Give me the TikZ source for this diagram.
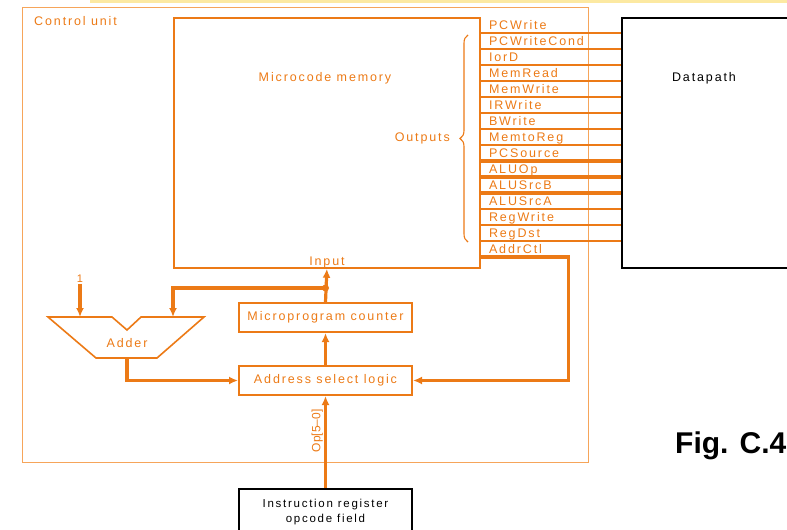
\documentclass[tikz,border=0pt]{standalone}
\usepackage{fontspec}
\setmainfont{Liberation Sans}[LetterSpace=15]
\newfontfamily\figfont{Liberation Sans}
\usetikzlibrary{arrows.meta, positioning, calc, decorations.pathreplacing}
\definecolor{cuorange}{RGB}{236,122,22}
\definecolor{cuframe}{RGB}{246,165,90}
\definecolor{brushyellow}{RGB}{250,212,70}

\begin{document}
\begin{tikzpicture}[
    x=1pt, y=-1pt,
    font=\fontsize{12.5}{14}\selectfont,
    txt/.style={text=cuorange, inner sep=1pt},
    blk/.style={rectangle, draw=cuorange, line width=2pt, minimum width=173pt, minimum height=29pt, text=cuorange},
    membox/.style={rectangle, draw=cuorange, line width=1.8pt, anchor=north west, minimum width=306pt, minimum height=250pt},
    dpbox/.style={rectangle, draw=black, line width=2pt, anchor=north west, minimum width=220pt, minimum height=250pt},
    sl/.style={draw=cuorange, line width=1.8pt},
    bus/.style={draw=cuorange, line width=3.2pt},
    arrow/.style={-{Latex[length=9pt,width=8pt]}},
    sig/.style={txt, anchor=base west}
]
    \clip (0,0) rectangle (787,530);
    \fill[brushyellow, opacity=0.5] (90,0) rectangle (787,2.5);

    % Frames
    \node[draw=cuframe, line width=1.2pt, anchor=north west, minimum width=566pt, minimum height=455pt] (cu) at (22,7) {};
    \node[txt, anchor=north west] (cutitle) at (33,15) {Control unit};
    \node[membox] (mem) at (173,17) {};
    \node[txt] (memtitle) at (325,78) {Microcode memory};
    \node[txt, anchor=south] (input) at (mem.south) {Input};
    \node[dpbox] (dp) at (621,17) {};
    \node[text=black] (dptitle) at (704,78) {Datapath};

    % Control signals
    \foreach \sig/\w [count=\i] in {PCWrite/sl, PCWriteCond/sl, IorD/sl, MemRead/sl, MemWrite/sl, IRWrite/sl, BWrite/sl, MemtoReg/sl, PCSource/bus, ALUOp/bus, ALUSrcB/bus, ALUSrcA/sl, RegWrite/sl, RegDst/sl} {
        \coordinate (o\i) at ($(mem.north east)+(0,16*\i)$);
        \node[sig] (s\i) at ($(o\i)+(7,-3.5)$) {\sig};
        \draw[\w] (o\i) -- (dp.west |- o\i);
    }
    \coordinate (o15) at ($(mem.north east)+(0,240)$);
    \node[sig] (s15) at ($(o15)+(7,-3.5)$) {AddrCtl};

    \draw[cuorange, line width=1.1pt, decorate, decoration={brace, amplitude=8pt}] (468,242) -- (468,35);
    \node[txt, anchor=east] (outputs) at (451,138) {Outputs};

    % Sequencer
    \node[blk] (mpc) at (325.5,317.5) {Microprogram counter};
    \node[blk, below=32pt of mpc] (asl) {Address select logic};
    \node[rectangle, draw=black, line width=2pt, minimum width=173pt, minimum height=46pt, anchor=north, align=center,
          font=\fontsize{11.5}{15}\selectfont] (ir) at (325.5,488) {Instruction register\\opcode field};

    % Adder
    \draw[cuorange, line width=1.6pt, fill=white] (48,317) -- (112,317) -- (127,330) -- (141,317) -- (204,317)
        -- (157,358) -- (96,358) -- cycle;
    \node[txt] (adder) at (127,343) {Adder};
    \coordinate (add1) at (80,317);
    \coordinate (add2) at (173,317);
    \coordinate (addout) at (127,358);
    \node[txt, font=\figfont\fontsize{11}{12}\selectfont] (one) at (80,279) {1};

    % Connections
    \coordinate (jn) at ($(mpc.north)+(0,-14)$);
    \draw[bus, arrow] (mpc.north) -- (mem.south);
    \fill[cuorange] (jn) circle (3.5pt);
    \draw[bus, arrow] (jn) -| (add2);
    \draw[bus, arrow] (one) -- (add1);
    \draw[bus, arrow] (addout) |- (asl.west);
    \draw[bus, arrow] (asl.north) -- (mpc.south);
    \draw[bus, arrow] (o15) -- ++(88,0) |- (asl.east);
    \draw[bus, arrow] (ir.north) -- node[txt, pos=0.62, sloped, above, font=\figfont\fontsize{12}{13}\selectfont] {Op[5–0]} (asl.south);

    \node[anchor=base west, inner sep=0pt, font=\figfont\bfseries\fontsize{30}{34}\selectfont] (fig) at (675,453) {Fig. C.4};
\end{tikzpicture}
\end{document}
